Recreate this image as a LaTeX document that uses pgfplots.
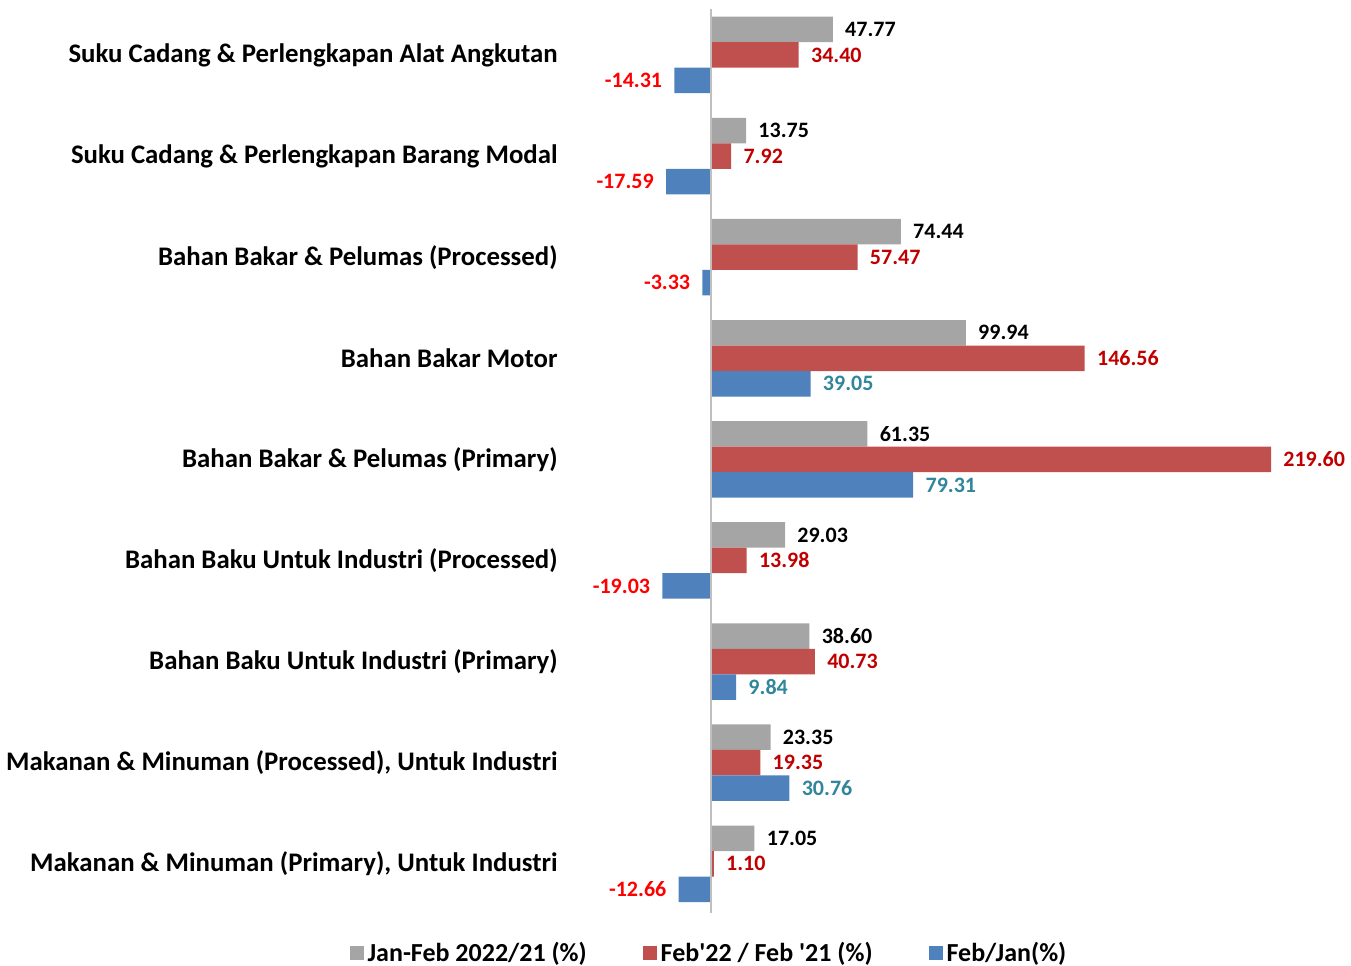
\documentclass[border=0pt]{standalone}
\usepackage{fontspec}
\setmainfont{Carlito}
\usepackage{pgfplots}
\pgfplotsset{compat=1.18}
\definecolor{cgray}{HTML}{A5A5A5}
\definecolor{cred}{HTML}{C0504D}
\definecolor{cblue}{HTML}{4F81BD}
\definecolor{tdred}{HTML}{C00000}
\definecolor{tred}{HTML}{FF0000}
\definecolor{tteal}{HTML}{31859C}
\begin{document}
\begin{tikzpicture}
\begin{axis}[
  width=675.5pt, height=483pt, scale only axis,
  xmin=-278.8, xmax=250.98, ymin=-1.011, ymax=8.544,
  hide axis, clip=false,
  xbar, bar width=12.75pt,
  point meta=x,
  /pgf/number format/assume math mode=true,
  nodes near coords={\pgfmathprintnumber[fixed,fixed zerofill,precision=2]{\pgfplotspointmeta}},
  nodes near coords align={horizontal},
  every node near coord/.append style={font=\bfseries\fontsize{11}{12}\selectfont, inner xsep=6pt, inner ysep=0pt},
  legend style={at={(axis description cs:0.5255,0.0135)}, anchor=center, draw=none, fill=none,
    font=\bfseries\fontsize{13}{15}\selectfont, legend columns=3,
    /tikz/every even column/.append style={column sep=26pt}},
  legend image code/.code={\fill[#1] (0pt,-3.5pt) rectangle (7pt,3.5pt);},
]
\addplot[fill=cgray, draw=none, bar shift=12.75pt, every node near coord/.append style={text=black}] coordinates {
(47.77,8) (13.75,7) (74.44,6) (99.94,5) (61.35,4) (29.03,3) (38.60,2) (23.35,1) (17.05,0)};
\addlegendentry{Jan-Feb 2022/21 (\%)}
\addplot[fill=cred, draw=none, bar shift=0pt, every node near coord/.append style={text=tdred}] coordinates {
(34.40,8) (7.92,7) (57.47,6) (146.56,5) (219.60,4) (13.98,3) (40.73,2) (19.35,1) (1.10,0)};
\addlegendentry{Feb\textquotesingle 22 / Feb \textquotesingle 21 (\%)}
\addplot[fill=cblue, draw=none, bar shift=-12.75pt, every node near coord/.append style={text=tteal}] coordinates {
(39.05,5) (79.31,4) (9.84,2) (30.76,1)};
\addlegendentry{Feb/Jan(\%)}
\addplot[fill=cblue, draw=none, bar shift=-12.75pt, forget plot, every node near coord/.append style={text=tred}] coordinates {
(-14.31,8) (-17.59,7) (-3.33,6) (-19.03,3) (-12.66,0)};
\draw[color=black!25, line width=0.6pt] (axis cs:0,8.455) -- (axis cs:0,-0.487);
\coordinate (bbl) at (rel axis cs:0,0);
\coordinate (btr) at (rel axis cs:1,1);
\begin{scope}[every node/.style={anchor=east, font=\bfseries\fontsize{13.4}{15}\selectfont, inner sep=0pt}]
\node at (axis cs:-60,8) {Suku Cadang \& Perlengkapan Alat Angkutan};
\node at (axis cs:-60,7) {Suku Cadang \& Perlengkapan Barang Modal};
\node at (axis cs:-60,6) {Bahan Bakar \& Pelumas (Processed)};
\node at (axis cs:-60,5) {Bahan Bakar Motor};
\node at (axis cs:-60,4) {Bahan Bakar \& Pelumas (Primary)};
\node at (axis cs:-60,3) {Bahan Baku Untuk Industri (Processed)};
\node at (axis cs:-60,2) {Bahan Baku Untuk Industri (Primary)};
\node at (axis cs:-60,1) {Makanan \& Minuman (Processed), Untuk Industri};
\node at (axis cs:-60,0) {Makanan \& Minuman (Primary), Untuk Industri};
\end{scope}
\end{axis}
\pgfresetboundingbox
\path[use as bounding box] (bbl) rectangle (btr);
\end{tikzpicture}
\end{document}
